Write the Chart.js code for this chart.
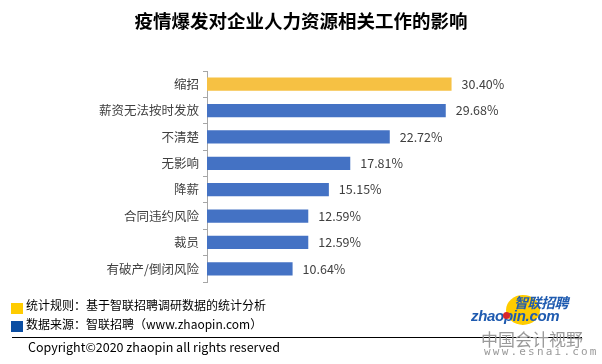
<!DOCTYPE html>
<html><head><meta charset="utf-8">
<script src="https://cdn.jsdelivr.net/npm/chart.js@4/dist/chart.umd.min.js"></script>
<style>
html,body{margin:0;padding:0;background:#fff;}
body{width:602px;height:364px;position:relative;overflow:hidden;font-family:"Noto Sans CJK SC","Noto Sans",sans-serif;}
#c{position:absolute;left:0;top:0;}
.t{position:absolute;white-space:nowrap;}
</style></head><body>
<canvas id="c" width="602" height="364"></canvas>
<div class="t" id="title" style="left:0;width:602px;text-align:center;top:8px;height:24px;line-height:24px;font-size:18.5px;font-weight:bold;color:#000;">疫情爆发对企业人力资源相关工作的影响</div>
<div style="position:absolute;left:11px;top:303px;width:12px;height:11px;background:#FFCC00;"></div>
<div style="position:absolute;left:11px;top:321px;width:12px;height:11px;background:#0B4EA2;"></div>
<div class="t" style="left:26px;top:297px;height:16px;line-height:16px;font-size:12px;color:#000;">统计规则：基于智联招聘调研数据的统计分析</div>
<div class="t" style="left:26px;top:316px;height:16px;line-height:16px;font-size:12px;color:#000;">数据来源：智联招聘（www.zhaopin.com）</div>
<div style="position:absolute;left:12px;top:337px;width:570px;height:1px;background:#000;"></div>
<div class="t" style="left:28px;top:339px;height:16px;line-height:16px;font-size:12.5px;color:#000;">Copyright©2020 zhaopin all rights reserved</div>
<div style="position:absolute;left:506px;top:295px;width:34px;height:30px;border-radius:50%;background:#FFCC00;"></div>
<div class="t" style="left:514px;top:295px;height:15px;line-height:15px;font-size:14px;font-weight:bold;font-style:italic;color:#1F5BB0;letter-spacing:-0.5px;">智联招聘</div>
<div class="t" style="left:471px;top:308px;height:15px;line-height:15px;font-size:15px;font-weight:bold;font-style:italic;color:#1F5BB0;font-family:'Liberation Sans',sans-serif;letter-spacing:-0.3px;">zhaopin.com</div>
<div style="position:absolute;left:503px;top:312px;width:7px;height:7px;border-radius:50%;background:#D9262C;"></div>
<div class="t" style="left:481px;top:330px;height:18px;line-height:18px;font-size:17px;color:#9a9a9a;letter-spacing:0px;">中国会计视野</div>
<div class="t" style="left:484px;top:345px;height:13px;line-height:13px;font-size:11px;color:#9a9a9a;letter-spacing:2.2px;font-family:'DejaVu Sans Mono',monospace;">www.esnai.com</div>
<script>
const categories = ["缩招","薪资无法按时发放","不清楚","无影响","降薪","合同违约风险","裁员","有破产/倒闭风险"];
const values = [30.40, 29.68, 22.72, 17.81, 15.15, 12.59, 12.59, 10.64];
const valueLabels = ["30.40%","29.68%","22.72%","17.81%","15.15%","12.59%","12.59%","10.64%"];
const barColors = categories.map((c,i)=> i===0 ? "#F6C143" : "#4472C4");

const labelPlugin = {
  id:'valLabels',
  afterDatasetsDraw(chart){
    const ctx = chart.ctx;
    const meta = chart.getDatasetMeta(0);
    ctx.save();
    ctx.font = '12.5px "Noto Sans CJK SC","Noto Sans",sans-serif';
    ctx.fillStyle = '#404040';
    ctx.textAlign = 'left';
    ctx.textBaseline = 'middle';
    meta.data.forEach((el,i)=>{
      ctx.fillText(valueLabels[i], el.x + 10, el.y);
    });
    ctx.restore();
  }
};

new Chart(document.getElementById('c'), {
  type:'bar',
  data:{labels:categories, datasets:[{data:values, backgroundColor:barColors, borderWidth:0, categoryPercentage:1.0, barPercentage:0.5}]},
  options:{
    indexAxis:'y',
    responsive:false,
    animation:false,
    devicePixelRatio:1,
    layout:{padding:{top:71,bottom:82,left:0,right:33}},
    plugins:{legend:{display:false},tooltip:{enabled:false},title:{display:false}},
    scales:{
      x:{display:false,min:0,max:45},
      y:{
        afterFit(scale){scale.width=207;},
        grid:{drawOnChartArea:false,drawTicks:true,tickLength:4,color:'#A6A6A6',offset:true},
        border:{display:true,color:'#A6A6A6',width:1},
        ticks:{color:'#404040',padding:4,font:{size:12.5,family:'"Noto Sans CJK SC","Noto Sans",sans-serif'}}
      }
    }
  },
  plugins:[labelPlugin]
});
</script>
</body></html>
